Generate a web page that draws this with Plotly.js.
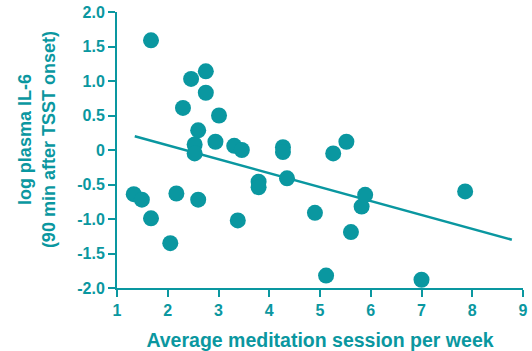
<!DOCTYPE html>
<html>
<head>
<meta charset="utf-8">
<script src="https://cdn.plot.ly/plotly-3.0.1.min.js"></script>
<style>html,body{margin:0;padding:0;background:#fff;}#chart{width:532px;height:351px;}</style>
</head>
<body>
<div id="chart"></div>
<script>
const sessions = [1.33,1.49,1.67,1.67,2.05,2.17,2.30,2.46,2.53,2.53,2.60,2.60,2.75,2.75,2.94,3.01,3.31,3.38,3.46,3.79,3.79,4.27,4.27,4.35,4.90,5.12,5.26,5.52,5.61,5.82,5.89,7.00,7.86];
const il6 = [-0.64,-0.72,-0.99,1.59,-1.35,-0.63,0.61,1.03,0.08,-0.05,0.285,-0.72,1.14,0.83,0.12,0.50,0.06,-1.02,0.00,-0.46,-0.54,0.04,-0.03,-0.41,-0.91,-1.82,-0.05,0.12,-1.19,-0.82,-0.65,-1.88,-0.60];
const fitX = [1.35, 8.78];
const fitY = [0.20, -1.30];
const xTicks = [1,2,3,4,5,6,7,8,9];
const yTicks = [2.0,1.5,1.0,0.5,0,-0.5,-1.0,-1.5,-2.0];
const yTickText = ['2.0','1.5','1.0','0.5','0','-0.5','-1.0','-1.5','-2.0'];
const xTitle = 'Average meditation session per week';
const yTitleLines = ['log plasma IL-6', '(90 min after TSST onset)'];

const teal = '#0a97a0';
const fontFam = '"Liberation Sans", Arial, sans-serif';

const data = [
  {x: fitX, y: fitY, type: 'scatter', mode: 'lines', line: {color: teal, width: 2.5}, hoverinfo: 'skip', cliponaxis: false},
  {x: sessions, y: il6, type: 'scatter', mode: 'markers', marker: {color: teal, size: 16}, cliponaxis: false}
];

const layout = {
  width: 532, height: 351,
  margin: {l: 117, r: 9, t: 12, b: 63},
  showlegend: false,
  paper_bgcolor: '#fff', plot_bgcolor: '#fff',
  font: {family: fontFam, color: teal, size: 15},
  xaxis: {
    range: [1, 9], tickvals: xTicks, ticktext: xTicks.map(v => '<b>' + v + '</b>'),
    showgrid: false, zeroline: false, showline: true, linecolor: teal, linewidth: 2,
    ticks: 'outside', ticklen: 7, tickwidth: 2, tickcolor: teal,
    tickfont: {family: fontFam, size: 16, color: teal},
    title: {text: '<b>' + xTitle + '</b>', font: {family: fontFam, size: 19.5, color: teal}, standoff: 16}
  },
  yaxis: {
    range: [-2, 2], tickvals: yTicks, ticktext: yTickText.map(t => '<b>' + t + '</b>'),
    showgrid: false, zeroline: false, showline: true, linecolor: teal, linewidth: 2,
    ticks: 'outside', ticklen: 7, tickwidth: 2, tickcolor: teal,
    tickfont: {family: fontFam, size: 16, color: teal}
  },
  annotations: [{
    text: yTitleLines.map(s => '<b>' + s + '</b>').join('<br>'), xref: 'paper', yref: 'paper',
    x: (36 - 117) / 406.6, y: (288 - 140) / 276, xanchor: 'center', yanchor: 'middle',
    textangle: -90, showarrow: false, font: {family: fontFam, size: 18, color: teal}
  }]
};

Plotly.newPlot('chart', data, layout, {displayModeBar: false, staticPlot: true});
</script>
</body>
</html>
